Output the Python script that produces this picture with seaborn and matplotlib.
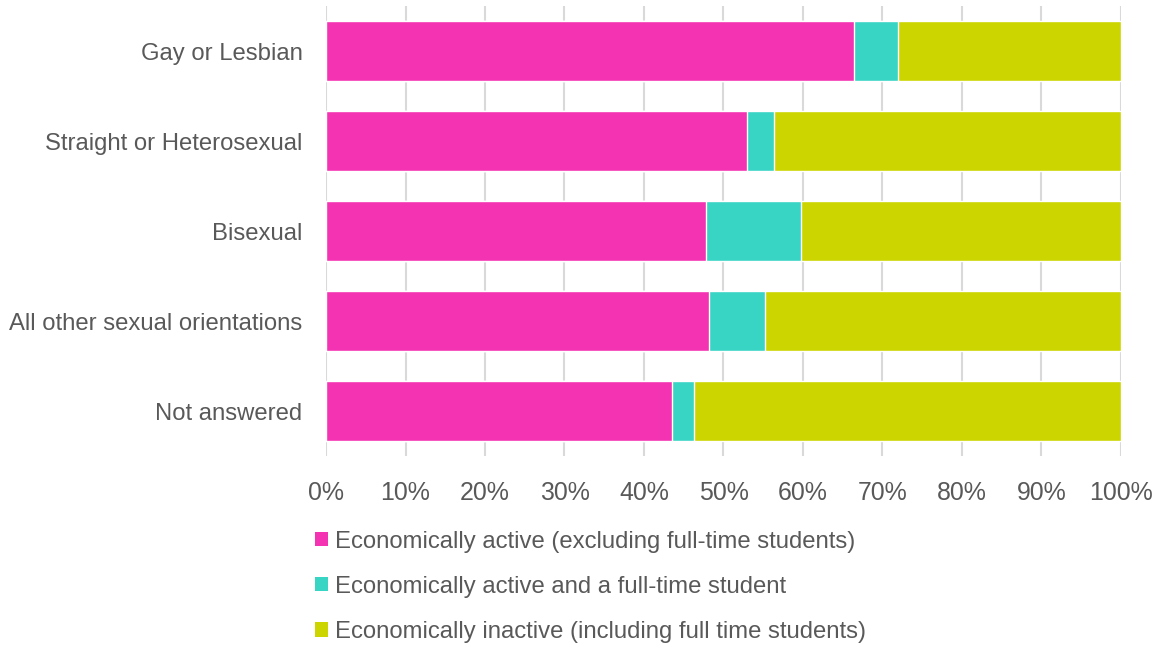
import matplotlib
matplotlib.use("Agg")
import matplotlib.pyplot as plt
from matplotlib.patches import Patch
from matplotlib.ticker import PercentFormatter
import numpy as np
import pandas as pd
import seaborn as sns

categories = ["Gay or Lesbian", "Straight or Heterosexual", "Bisexual",
              "All other sexual orientations", "Not answered"]
active = [66.4, 52.9, 47.8, 48.2, 43.5]
active_student = [5.6, 3.5, 11.9, 7.0, 2.8]
inactive = [28.0, 43.6, 40.3, 44.8, 53.7]

series_names = ["Economically active (excluding full-time students)",
                "Economically active and a full-time student",
                "Economically inactive (including full time students)"]
colors = ["#f433b2", "#38d4c4", "#cdd500"]
text_col = "#595959"

sns.set_theme(style="white")
plt.rcParams["font.family"] = ["Liberation Sans", "DejaVu Sans"]

df = pd.DataFrame({"category": categories, "a": active, "b": active_student, "c": inactive})
df["cum_a"] = df["a"]
df["cum_b"] = df["a"] + df["b"]
df["cum_c"] = df["a"] + df["b"] + df["c"]

fig = plt.figure(figsize=(11.61, 6.48), dpi=100)
ax = fig.add_axes([0.2808, 0.2963, 0.6847, 0.6944])

# draw cumulative layers, longest first so the shorter ones sit on top
for col, c in zip(["cum_c", "cum_b", "cum_a"], colors[::-1]):
    sns.barplot(data=df, x=col, y="category", orient="h", color=c,
                width=0.66, saturation=1, ax=ax, zorder=3)

ax.set_xlim(0, 100)
ax.set_xticks(np.arange(0, 101, 10))
ax.xaxis.set_major_formatter(PercentFormatter(decimals=0))
ax.grid(axis="x", color="#d9d9d9", linewidth=1.5, zorder=0)
ax.set_axisbelow(True)
ax.set_xlabel("")
ax.set_ylabel("")
for s in ax.spines.values():
    s.set_visible(False)
ax.tick_params(axis="x", labelsize=17.9, colors=text_col, length=0, pad=18)
ax.tick_params(axis="y", labelsize=17.2, colors=text_col, length=0, pad=17)

handles = [Patch(facecolor=c, edgecolor="none") for c in colors]
fig.legend(handles, series_names, loc="upper left", bbox_to_anchor=(0.263, 0.196),
           frameon=False, fontsize=17.2, labelcolor=text_col,
           handlelength=0.55, handleheight=0.55, handletextpad=0.3,
           labelspacing=0.97, borderaxespad=0)

fig.savefig("out.png", dpi=100)
